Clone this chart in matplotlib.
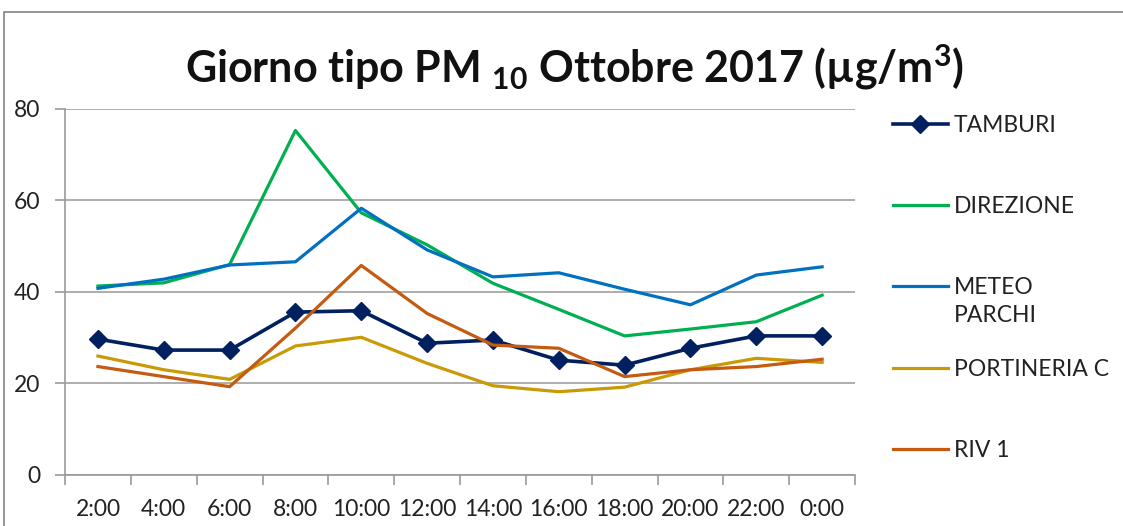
import matplotlib
matplotlib.use("Agg")
import matplotlib.pyplot as plt
from matplotlib.patches import Rectangle
from matplotlib.ticker import FixedLocator

plt.rcParams['font.family'] = ['Lato', 'DejaVu Sans']

# dati
ore = ['2:00', '4:00', '6:00', '8:00', '10:00', '12:00', '14:00', '16:00',
       '18:00', '20:00', '22:00', '0:00']
tamburi = [29.7, 27.3, 27.3, 35.6, 35.9, 28.8, 29.5, 25.1, 24.0, 27.7, 30.4, 30.4]
direzione = [41.3, 42.0, 46.0, 75.3, 57.3, 50.3, 41.9, 36.2, 30.4, 31.9, 33.5, 39.3]
meteo_parchi = [40.8, 42.8, 45.9, 46.6, 58.3, 49.2, 43.3, 44.2, 40.6, 37.2, 43.7, 45.5]
portineria_c = [26.0, 23.0, 20.9, 28.2, 30.1, 24.4, 19.5, 18.2, 19.2, 23.0, 25.5, 24.6]
riv1 = [23.7, 21.5, 19.3, 32.1, 45.8, 35.3, 28.4, 27.7, 21.5, 23.0, 23.7, 25.3]

fig = plt.figure(figsize=(11.23, 5.26), dpi=100)
ax = fig.add_axes([0.0579, 0.097, 0.7035, 0.6958])

x = list(range(len(ore)))
ax.plot(x, tamburi, color='#002060', lw=2.6, marker='D', ms=9.5, label='TAMBURI')
ax.plot(x, direzione, color='#00B050', lw=2.3, label='DIREZIONE')
ax.plot(x, meteo_parchi, color='#0070C0', lw=2.3, label='METEO')
ax.plot(x, portineria_c, color='#C99A06', lw=2.3, label='PORTINERIA C')
ax.plot(x, riv1, color='#C55A11', lw=2.3, label='RIV 1')

ax.set_xlim(-0.5, len(ore) - 0.5)
ax.set_ylim(0, 80)
ax.set_yticks([0, 20, 40, 60, 80])
ax.set_xticks(x)
ax.set_xticklabels(ore)
ax.xaxis.set_minor_locator(FixedLocator([i - 0.5 for i in range(len(ore) + 1)]))
ax.tick_params(axis='x', which='major', length=0, pad=17, labelsize=16.5, colors='#222222')
ax.tick_params(axis='x', which='minor', length=7, color='#999999', width=1.2)
ax.tick_params(axis='y', length=7, color='#999999', width=1.2, pad=11,
               labelsize=16.5, labelcolor='#222222')
ax.grid(axis='y', color='#a0a0a0', lw=1.2)
ax.set_axisbelow(True)
for s in ['top', 'right']:
    ax.spines[s].set_visible(False)
for s in ['left', 'bottom']:
    ax.spines[s].set_color('#999999')
    ax.spines[s].set_linewidth(1.2)

leg = ax.legend(loc='upper left', bbox_to_anchor=(1.048, 0.984), frameon=False,
                fontsize=16.5, labelspacing=2.63, handlelength=2.4, handletextpad=0.25,
                borderaxespad=0, borderpad=0)
for t in leg.get_texts():
    t.set_color('#222222')

# seconda riga dell'etichetta METEO PARCHI
fig.canvas.draw()
bb = leg.get_texts()[2].get_window_extent().transformed(fig.transFigure.inverted())
fig.text(bb.x0, bb.y0 - 0.012, 'PARCHI', ha='left', va='top', fontsize=16.5, color='#222222')

fig.text(0.512, 0.872, r'Giorno tipo PM $\mathregular{_{10}}$ Ottobre 2017 (µg/m$\mathregular{^3}$)',
         ha='center', va='center', fontsize=31, fontweight='bold', color='#111111')

fig.patches.append(Rectangle((4 / 1123, -0.1), 1.2, 1.1 - 12 / 526,
                             transform=fig.transFigure, fill=False,
                             edgecolor='#8c8c8c', lw=1.3))

fig.savefig('out.png', dpi=100)
